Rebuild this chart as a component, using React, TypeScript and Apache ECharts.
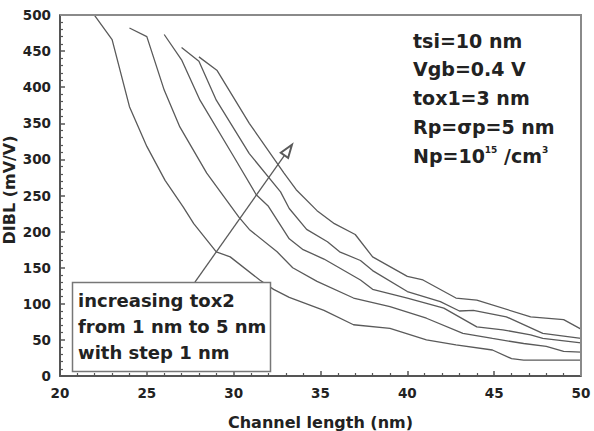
import React, { useEffect, useRef } from "react";
import * as echarts from "echarts";

// DIBL versus channel length, one curve per tox2 value (1..5 nm)
const tox2_1nm: [number, number][] = [
  [22.0, 499], [23.0, 466], [24.0, 373], [25.0, 318], [26.05, 271], [27.1, 234],
  [27.7, 211], [29.0, 172], [29.8, 165], [31.5, 133], [32.3, 120], [33.2, 109],
  [35.2, 91], [36.9, 71], [39.0, 66], [41.1, 50], [42.8, 43], [44.9, 36],
  [46.0, 24], [46.7, 22], [50.0, 22],
];
const tox2_2nm: [number, number][] = [
  [24.0, 482], [25.0, 470], [26.0, 396], [26.9, 345], [28.45, 281], [30.3, 220],
  [30.9, 203], [32.5, 172], [33.4, 150], [34.8, 131], [36.9, 108], [39.0, 96],
  [41.1, 80], [43.2, 59], [44.9, 52], [46.7, 45], [48.0, 41], [49.0, 34], [50.0, 33],
];
const tox2_3nm: [number, number][] = [
  [26.0, 473], [27.0, 438], [28.06, 382], [30.0, 304], [31.3, 251], [32.0, 235],
  [33.2, 190], [34.0, 175], [35.2, 162], [37.3, 133], [38.0, 120], [40.0, 108],
  [42.1, 94], [44.0, 68], [45.5, 64], [47.1, 57], [47.8, 52], [50.0, 46],
];
const tox2_4nm: [number, number][] = [
  [27.0, 455], [28.0, 436], [29.0, 382], [30.9, 308], [32.7, 255], [33.2, 232],
  [34.2, 203], [35.4, 186], [36.1, 172], [37.3, 160], [38.0, 146], [40.0, 117],
  [41.9, 103], [43.0, 90], [43.8, 91], [45.7, 82], [47.8, 59], [50.0, 52],
];
const tox2_5nm: [number, number][] = [
  [28.0, 442], [29.05, 423], [30.9, 350], [32.9, 281], [33.6, 258], [34.8, 229],
  [35.8, 211], [37.0, 196], [38.0, 165], [40.0, 138], [40.9, 133], [42.8, 108],
  [44.0, 105], [47.1, 82], [49.0, 78], [50.0, 65],
];
const curves = [tox2_1nm, tox2_2nm, tox2_3nm, tox2_4nm, tox2_5nm];

// arrow showing the direction of increasing tox2
const arrowFrom: [number, number] = [27.77, 130];
const arrowTo: [number, number] = [33.14, 313];

const xTicks = { min: 20, max: 50, interval: 5 };
const yTicks = { min: 0, max: 500, interval: 50 };

const xTitle = "Channel length (nm)";
const yTitle = "DIBL (mV/V)";
const paramLines = ["tsi=10 nm", "Vgb=0.4 V", "tox1=3 nm", "Rp=σp=5 nm"];
const boxLines = ["increasing tox2", "from 1 nm to 5 nm", "with step 1 nm"];

const FONT = "'DejaVu Sans', Verdana, sans-serif";
const INK = "#222";
const CURVE = "#5a5a5a";
const AXIS = "#555";

function axisStyle(labelMargin: number) {
  return {
    splitLine: { show: false },
    axisLine: { show: true, onZero: false, lineStyle: { color: AXIS, width: 2 } },
    axisTick: { show: true, inside: true, length: 5, lineStyle: { color: AXIS, width: 1.5 } },
    minorTick: { show: true, splitNumber: 5, length: 3, lineStyle: { color: AXIS, width: 1.2 } },
    axisLabel: { color: INK, fontFamily: FONT, fontWeight: "bold", fontSize: 13.5, margin: labelMargin },
    nameTextStyle: { color: INK, fontFamily: FONT, fontWeight: "bold", fontSize: 16 },
  };
}

export default function App() {
  const ref = useRef<HTMLDivElement>(null);

  useEffect(() => {
    if (!ref.current) return;
    const chart = echarts.init(ref.current, undefined, { renderer: "svg" });

    const series: any[] = curves.map((data, i) => ({
      type: "line",
      name: `tox2=${i + 1} nm`,
      data,
      showSymbol: false,
      smooth: false,
      lineStyle: { color: CURVE, width: 1.3 },
      silent: true,
      z: 2,
    }));

    series.push({
      type: "line",
      data: [],
      silent: true,
      markLine: {
        silent: true,
        animation: false,
        symbol: ["none", "emptyTriangle"],
        symbolSize: [9, 13],
        label: { show: false },
        lineStyle: { color: CURVE, width: 1.3, type: "solid" },
        data: [[{ coord: arrowFrom }, { coord: arrowTo }]],
      },
      z: 1,
    });

    const graphic: any[] = [
      // plot frame (top and right edges)
      {
        type: "polyline",
        shape: { points: [[60, 15], [581, 15], [581, 376]] },
        style: { stroke: "#8a8a8a", lineWidth: 2, fill: null },
        silent: true,
        z: 10,
      },
      // vertical axis title, reading bottom to top
      {
        type: "text",
        x: 9,
        y: 190,
        rotation: Math.PI / 2,
        style: {
          text: yTitle,
          font: `bold 16px ${FONT}`,
          fill: INK,
          align: "center",
          verticalAlign: "middle",
        },
        silent: true,
        z: 10,
      },
      ...paramLines.map((t, i) => ({
        type: "text",
        left: 413,
        top: 31 + i * 28.7,
        style: { text: t, font: `bold 19px ${FONT}`, fill: INK },
        silent: true,
        z: 10,
      })),
      {
        type: "text",
        left: 413,
        top: 145,
        style: {
          text: "Np=10{sup|15} /cm{sup|3}",
          font: `bold 19px ${FONT}`,
          fill: INK,
          rich: {
            sup: { fontSize: 9, fontWeight: "bold", fontFamily: FONT, fill: INK, verticalAlign: "top", padding: [0, 0, 12, 0] },
          },
        },
        silent: true,
        z: 10,
      },
      {
        type: "rect",
        shape: { x: 72.5, y: 282.5, width: 198, height: 89 },
        style: { fill: "#fff", stroke: "#777", lineWidth: 1.5 },
        silent: true,
        z: 20,
      },
      ...boxLines.map((t, i) => ({
        type: "text",
        left: 78,
        top: 291 + i * 26,
        style: { text: t, font: `bold 18px ${FONT}`, fill: INK },
        silent: true,
        z: 21,
      })),
    ];

    chart.setOption({
      animation: false,
      backgroundColor: "#fff",
      grid: { left: 60, right: 13, top: 15, bottom: 55, outerBoundsMode: "none", containLabel: false },
      xAxis: {
        type: "value",
        ...xTicks,
        name: xTitle,
        nameLocation: "middle",
        nameGap: 38,
        ...axisStyle(10),
      },
      yAxis: {
        type: "value",
        ...yTicks,
        ...axisStyle(9),
      },
      series,
      graphic,
    });

    return () => chart.dispose();
  }, []);

  return (
    <div
      ref={ref}
      style={{ position: "fixed", left: 0, top: 0, width: 594, height: 431 }}
    />
  );
}
